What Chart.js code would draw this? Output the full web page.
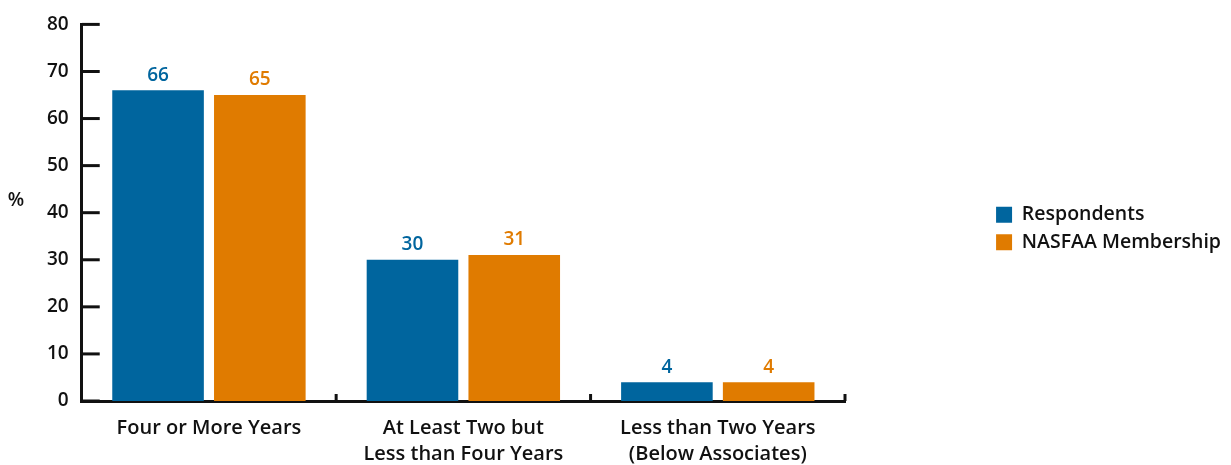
<!DOCTYPE html>
<html>
<head>
<meta charset="utf-8">
<script src="https://cdn.jsdelivr.net/npm/chart.js@4"></script>
<style>
  html, body { margin: 0; padding: 0; background: #fff; }
  #wrap { width: 1231px; height: 465px; }
</style>
</head>
<body>
<div id="wrap"><canvas id="eduChart" width="1231" height="465"></canvas></div>
<script>
var categories = [
  "Four or More Years",
  ["At Least Two but", "Less than Four Years"],
  ["Less than Two Years", "(Below Associates)"]
];
var respondents = [66, 30, 4];
var membership = [65, 31, 4];
var yTicks = [0, 10, 20, 30, 40, 50, 60, 70, 80];

var blue = 'rgb(0, 101, 158)';
var orange = 'rgb(224, 123, 0)';
var ink = '#111111';
var fontFamily = '"Open Sans", Lato, sans-serif';
var legendSpace = 386; // room kept right of the plot for the legend

// legend sits in a wide box, but is drawn against its right edge
var legendGap = {
  id: 'legendGap',
  beforeLayout: function (chart) {
    var lg = chart.legend;
    if (!lg || lg._gapPatched) return;
    var fit = lg.fit;
    lg.fit = function () {
      fit.call(this);
      this._natW = this.width;
      this.width = Math.max(this.width, legendSpace);
    };
    lg._gapPatched = true;
  },
  afterLayout: function (chart) {
    var lg = chart.legend;
    lg.left = lg.right - lg._natW;
    lg.width = lg._natW;
    lg.top -= 20;
  }
};

// inward ticks on the axes, the % label and the value labels
var decorations = {
  id: 'decorations',
  afterDraw: function (chart) {
    var c = chart.ctx;
    var x = chart.scales.x, y = chart.scales.y;
    var area = chart.chartArea;
    c.save();
    c.strokeStyle = ink;
    c.lineWidth = 3;
    yTicks.forEach(function (v) {
      var py = y.getPixelForValue(v);
      c.beginPath();
      c.moveTo(area.left, py);
      c.lineTo(area.left + 18, py);
      c.stroke();
    });
    for (var i = 0; i < categories.length; i++) {
      var px = i < categories.length - 1
        ? (x.getPixelForValue(i) + x.getPixelForValue(i + 1)) / 2
        : area.right;
      c.beginPath();
      c.moveTo(px, area.bottom);
      c.lineTo(px, area.bottom - 7);
      c.stroke();
    }
    c.fillStyle = ink;
    c.font = '600 19px ' + fontFamily;
    c.textAlign = 'center';
    c.textBaseline = 'middle';
    c.fillText('%', 16, 201);

    chart.data.datasets.forEach(function (ds, di) {
      var meta = chart.getDatasetMeta(di);
      c.fillStyle = ds.backgroundColor;
      meta.data.forEach(function (bar, i) {
        c.fillText(String(ds.data[i]), bar.x, bar.y - 15);
      });
    });
    c.restore();
  }
};

function draw() {
  new Chart(document.getElementById('eduChart').getContext('2d'), {
    type: 'bar',
    data: {
      labels: categories,
      datasets: [{
        label: 'Respondents',
        data: respondents,
        backgroundColor: blue
      }, {
        label: 'NASFAA Membership',
        data: membership,
        backgroundColor: orange
      }]
    },
    options: {
      responsive: false,
      animation: false,
      layout: { padding: { left: 34, top: -4, right: 0, bottom: -16 } },
      categoryPercentage: 0.8,
      barPercentage: 0.9,
      plugins: {
        tooltip: { enabled: false },
        legend: {
          position: 'right',
          labels: {
            boxWidth: 16,
            boxHeight: 16,
            padding: 8,
            color: ink,
            font: { family: fontFamily, size: 19.5, weight: '600' }
          }
        }
      },
      scales: {
        x: {
          grid: { display: false, drawTicks: false },
          border: { display: true, color: ink, width: 3 },
          ticks: {
            color: ink,
            padding: 14,
            font: { family: fontFamily, size: 20, weight: '600', lineHeight: 1.3 }
          }
        },
        y: {
          min: 0,
          max: 80,
          grid: { display: false, drawTicks: false },
          border: { display: true, color: ink, width: 3 },
          ticks: {
            stepSize: 10,
            color: ink,
            padding: 13,
            font: { family: fontFamily, size: 19, weight: '600' }
          }
        }
      }
    },
    plugins: [legendGap, decorations]
  });
}

if (document.fonts && document.fonts.load) {
  Promise.all([
    document.fonts.load('600 19px "Open Sans"'),
    document.fonts.load('600 20px "Open Sans"')
  ]).then(draw, draw);
} else {
  draw();
}
</script>
</body>
</html>
